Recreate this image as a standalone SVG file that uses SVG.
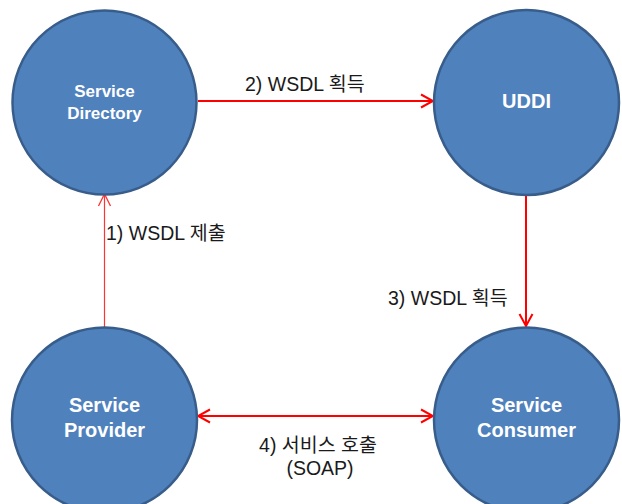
<svg xmlns="http://www.w3.org/2000/svg" width="622" height="504" viewBox="0 0 622 504">
  <style>
    .node circle { fill: #4f81bd; stroke: #385d8a; stroke-width: 2.5; }
    .node text { fill: #ffffff; font-family: "Liberation Sans", "Noto Sans CJK KR", sans-serif; font-weight: bold; text-anchor: middle; }
    .edge { fill: none; stroke: #ff0000; stroke-width: 2; }
    .edge.thin { stroke: #ff3333; stroke-width: 1.2; }
    .label { fill: #1a1a1a; font-family: "Liberation Sans", "Noto Sans CJK KR", sans-serif; font-size: 19.5px; }
  </style>
  <defs>
    <marker id="arrow" viewBox="-14 -8 16 16" markerWidth="16" markerHeight="16" refX="0" refY="0" orient="auto-start-reverse" markerUnits="userSpaceOnUse">
      <path d="M-12,-6.5 L0,0 L-12,6.5" fill="none" stroke="#ff0000" stroke-width="2"/>
    </marker>
    <marker id="arrowThin" viewBox="-14 -8 16 16" markerWidth="16" markerHeight="16" refX="0" refY="0" orient="auto" markerUnits="userSpaceOnUse">
      <path d="M-12,-6 L0,0 L-12,6" fill="none" stroke="#ff3333" stroke-width="1.3"/>
    </marker>
  </defs>

  <g id="connectors">
    <!-- 1) provider publishes WSDL to directory -->
    <line class="edge thin" x1="104.5" y1="327" x2="104.5" y2="194" marker-end="url(#arrowThin)"/>
    <!-- 2) directory to UDDI -->
    <line class="edge" x1="198" y1="101" x2="433" y2="101" marker-end="url(#arrow)"/>
    <!-- 3) UDDI to consumer -->
    <line class="edge" x1="526" y1="194" x2="526" y2="326" marker-end="url(#arrow)"/>
    <!-- 4) provider <-> consumer -->
    <line class="edge" x1="198" y1="416" x2="433" y2="416" marker-start="url(#arrow)" marker-end="url(#arrow)"/>

    <text class="label" x="106" y="240">1) WSDL 제출</text>
    <text class="label" x="245" y="91">2) WSDL 획득</text>
    <text class="label" x="388" y="305">3) WSDL 획득</text>
    <text class="label" x="318" y="452" text-anchor="middle">4) 서비스 호출</text>
    <text class="label" x="320" y="475" text-anchor="middle">(SOAP)</text>
  </g>

  <g id="service-directory" class="node">
    <circle cx="104.5" cy="102.5" r="92"/>
    <text x="104.5" y="97" font-size="17">Service</text>
    <text x="104.5" y="119" font-size="17">Directory</text>
  </g>

  <g id="uddi" class="node">
    <circle cx="526.5" cy="102.5" r="92.5"/>
    <text x="526.5" y="108" font-size="20">UDDI</text>
  </g>

  <g id="service-provider" class="node">
    <circle cx="104.5" cy="420" r="92.5"/>
    <text x="104.5" y="412" font-size="20">Service</text>
    <text x="104.5" y="437" font-size="20">Provider</text>
  </g>

  <g id="service-consumer" class="node">
    <circle cx="526.5" cy="420" r="92.5"/>
    <text x="526.5" y="412" font-size="20">Service</text>
    <text x="526.5" y="437" font-size="20">Consumer</text>
  </g>
</svg>
